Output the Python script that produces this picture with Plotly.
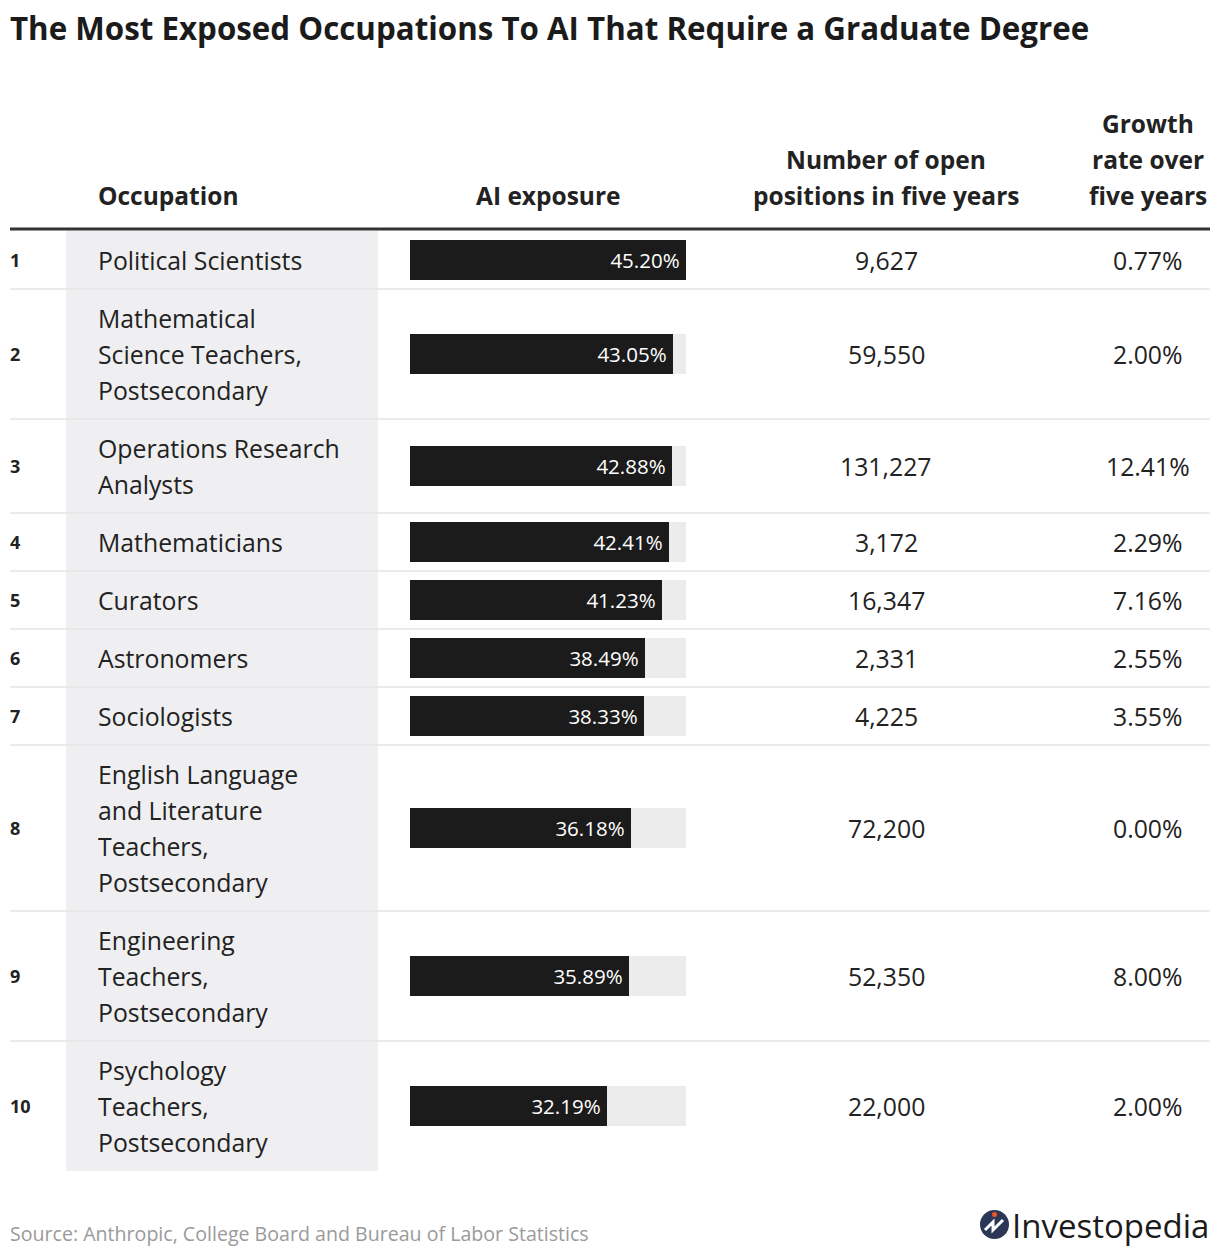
import plotly.graph_objects as go

ranks = [1, 2, 3, 4, 5, 6, 7, 8, 9, 10]
occupations = [
    ["Political Scientists"],
    ["Mathematical", "Science Teachers,", "Postsecondary"],
    ["Operations Research", "Analysts"],
    ["Mathematicians"],
    ["Curators"],
    ["Astronomers"],
    ["Sociologists"],
    ["English Language", "and Literature", "Teachers,", "Postsecondary"],
    ["Engineering", "Teachers,", "Postsecondary"],
    ["Psychology", "Teachers,", "Postsecondary"],
]
ai_exposure = [45.20, 43.05, 42.88, 42.41, 41.23, 38.49, 38.33, 36.18, 35.89, 32.19]
open_positions = [9627, 59550, 131227, 3172, 16347, 2331, 4225, 72200, 52350, 22000]
growth_rate = [0.77, 2.00, 12.41, 2.29, 7.16, 2.55, 3.55, 0.00, 8.00, 2.00]

title = "The Most Exposed Occupations To AI That Require a Graduate Degree"
source = "Source: Anthropic, College Board and Bureau of Labor Statistics"

W, H = 1220, 1256
OFF = 8  # page margin the browser adds around the plot
FONT = "Open Sans"
LINE = 36
TOP = 231

# row geometry from number of text lines
centers, bounds = [], [TOP]
y = TOP
for lines in occupations:
    h = len(lines) * LINE + 22
    centers.append(y + h / 2)
    y += h
    bounds.append(y)

fig = go.Figure()

# grey track behind bars
fig.add_trace(go.Bar(
    x=[max(ai_exposure)] * len(ai_exposure), y=centers, orientation="h",
    width=40, marker=dict(color="#ececec", line=dict(width=0)),
    xaxis="x2", yaxis="y", hoverinfo="skip", showlegend=False,
))
fig.add_trace(go.Bar(
    x=ai_exposure, y=centers, orientation="h", width=40,
    marker=dict(color="#1b1b1b", line=dict(width=0)),
    text=[f"{v:.2f}%\u2009" for v in ai_exposure],
    textposition="inside", insidetextanchor="end",
    textfont=dict(family=FONT, size=20.5, color="white"),
    xaxis="x2", yaxis="y", showlegend=False,
))

shapes = [
    dict(type="rect", xref="x", yref="y", x0=66, x1=378, y0=TOP, y1=bounds[-1],
         fillcolor="#efeff1", line=dict(width=0), layer="below"),
    dict(type="line", xref="x", yref="y", x0=10, x1=1210, y0=229, y1=229,
         line=dict(color="#333333", width=3)),
]
for b in bounds[1:-1]:
    shapes.append(dict(type="line", xref="x", yref="y", x0=10, x1=1210, y0=b, y1=b,
                       line=dict(color="#e4e4e4", width=1.5)))

ann = []


def txt(x, y, s, size=24.8, color="#222222", anchor="left", bold=False):
    ann.append(dict(x=x, y=y, xref="x", yref="y", text=f"<b>{s}</b>" if bold else s,
                    showarrow=False, xanchor=anchor, yanchor="middle",
                    borderpad=0, borderwidth=0,
                    font=dict(family=FONT, size=size, color=color)))


txt(10, 28, title, size=31.3, color="#1b1b1b", bold=True)

txt(98, 195, "Occupation", size=24.5, bold=True)
txt(548, 195, "AI exposure", size=24.5, anchor="center", bold=True)
for i, s in enumerate(["Number of open", "positions in five years"]):
    txt(886, 159 + i * LINE, s, size=24.5, anchor="center", bold=True)
for i, s in enumerate(["Growth", "rate over", "five years"]):
    txt(1148, 123 + i * LINE, s, size=24.5, anchor="center", bold=True)

for r, lines, c, n, g in zip(ranks, occupations, centers, open_positions, growth_rate):
    txt(10, c, str(r), size=18, bold=True)
    y0 = c - (len(lines) - 1) * LINE / 2
    for i, s in enumerate(lines):
        txt(98, y0 + i * LINE, s)
    txt(886, c, f"{n:,}", anchor="center")
    txt(1148, c, f"{g:.2f}%", anchor="center")

txt(10, 1233, source, size=19.6, color="#9a9a9a")

# logo
shapes.append(dict(type="circle", xref="x", yref="y", x0=980, x1=1009, y0=1210, y1=1239,
                   fillcolor="#2c3657", line=dict(width=0)))
shapes.append(dict(type="path", xref="x", yref="y",
                   path="M 985 1230 L 993 1222 L 993 1230 L 1003 1220",
                   line=dict(color="white", width=3)))
shapes.append(dict(type="circle", xref="x", yref="y", x0=992, x1=997, y0=1212, y1=1217,
                   fillcolor="#f0542a", line=dict(width=0)))
txt(1012, 1225, "Investopedia", size=33, color="#1b1b1b")

PW, PH = W - OFF, H - OFF
fig.update_layout(
    width=PW, height=PH,
    margin=dict(l=0, r=0, t=0, b=0),
    paper_bgcolor="white", plot_bgcolor="white",
    barmode="overlay", bargap=0,
    xaxis=dict(range=[OFF, W], domain=[0, 1], visible=False, fixedrange=True),
    yaxis=dict(range=[H, OFF], domain=[0, 1], visible=False, fixedrange=True),
    xaxis2=dict(range=[0, max(ai_exposure)], domain=[(410 - OFF) / PW, (686 - OFF) / PW],
                anchor="y", visible=False, fixedrange=True),
    shapes=shapes, annotations=ann,
    uniformtext=dict(mode="show", minsize=20),
)

fig.write_html("out.html")
